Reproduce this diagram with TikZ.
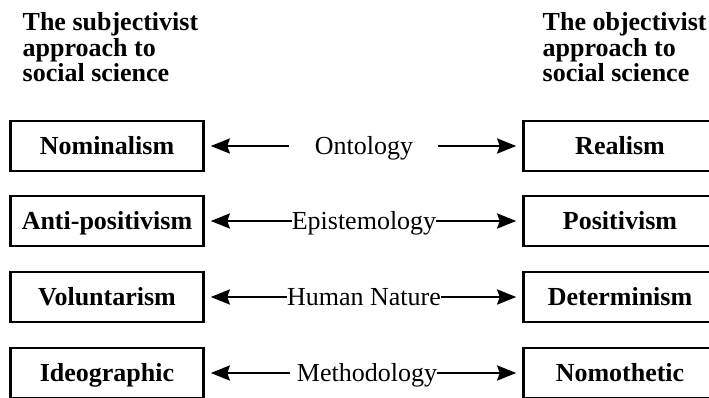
\documentclass[tikz,border=0pt]{standalone}
\usepackage{fontspec}
\setmainfont{Liberation Serif}
\usetikzlibrary{arrows.meta}

\begin{document}
\begin{tikzpicture}[x=1pt,y=-1pt,
  concept/.style={draw, line width=2.6pt, minimum width=193pt, minimum height=50pt,
    inner sep=0pt, text height=20pt, text depth=3pt,
    font=\bfseries\fontsize{26}{30}\selectfont},
  dimension/.style={inner sep=0pt, text height=20pt, text depth=3pt,
    font=\fontsize{26}{30}\selectfont},
  heading/.style={anchor=base west, inner sep=0pt,
    font=\bfseries\fontsize{26}{30}\selectfont},
  link/.style={line width=2.6pt, shorten >=6pt,
    -{Stealth[length=19pt,width=15pt,inset=2.5pt]}}
]
\useasboundingbox (0,0) rectangle (709,398);
\clip (0,0) rectangle (709,398);

% column headings
\node[heading] (s1) at (22.5,31) {The subjectivist};
\node[heading] (s2) at (22.5,56.5) {approach to};
\node[heading] (s3) at (22.5,82) {social science};
\node[heading] (o1) at (542.5,31) {The objectivist};
\node[heading] (o2) at (542.5,56.5) {approach to};
\node[heading] (o3) at (542.5,82) {social science};

% subjectivist positions
\node[concept] (nom) at (107,146) {Nominalism};
\node[concept] (anti) at (107,221) {Anti-positivism};
\node[concept] (vol) at (107,297) {Voluntarism};
\node[concept] (ideo) at (107,373) {Ideographic};

% objectivist positions
\node[concept] (real) at (620,146) {Realism};
\node[concept] (pos) at (620,221) {Positivism};
\node[concept] (det) at (620,297) {Determinism};
\node[concept] (nomo) at (620,373) {Nomothetic};

% the four dimensions
\node[dimension] (ont) at (364,146) {Ontology};
\node[dimension] (epi) at (364,221) {Epistemology};
\node[dimension] (hum) at (364,297) {Human Nature};
\node[dimension] (met) at (367,373) {Methodology};

\coordinate (ontL) at (289,146);
\coordinate (ontR) at (438,146);
\coordinate (metL) at (290,373);

% connectors
\draw[link] (ontL) -- (nom);
\draw[link] (ontR) -- (real);
\draw[link] (epi.west) -- (anti);
\draw[link] (epi.east) -- (pos);
\draw[link] (hum.west) -- (vol);
\draw[link] (hum.east) -- (det);
\draw[link] (metL) -- (ideo);
\draw[link] (met.east) -- (nomo);
\end{tikzpicture}
\end{document}
